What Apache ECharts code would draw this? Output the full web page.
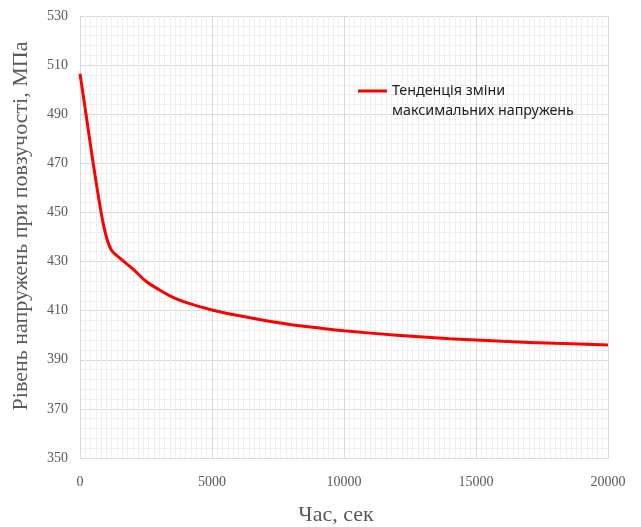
<!DOCTYPE html>
<html>
<head>
<meta charset="utf-8">
<script src="https://cdn.jsdelivr.net/npm/echarts@6/dist/echarts.min.js"></script>
<style>
html,body{margin:0;padding:0;background:#fff;}
#chart{width:641px;height:527px;}
</style>
</head>
<body>
<div id="chart"></div>
<script>
// Data
var timeSec = [0, 200, 500, 800, 1000, 1200, 1500, 2000, 2500, 3000, 3500, 4000, 5000, 6000, 7000, 8000, 9000, 10000, 12000, 14000, 16000, 18000, 20000];
var stressMPa = [506.5, 492, 470, 450, 440, 434.5, 431.5, 427, 422, 418.5, 415.5, 413.4, 410.3, 408, 406, 404.3, 403, 401.8, 400, 398.6, 397.5, 396.7, 396];
var seriesName = 'Тенденція зміни\nмаксимальних напружень';
var xName = 'Час, сек';
var yName = 'Рівень напружень при повзучості, МПа';

var points = timeSec.map(function (t, i) { return [t, stressMPa[i]]; });

var chart = echarts.init(document.getElementById('chart'), null, {renderer: 'canvas'});
chart.setOption({
  animation: false,
  backgroundColor: '#ffffff',
  grid: {left: 80, right: 33, top: 16, bottom: 69, outerBoundsMode: 'none', containLabel: false},
  legend: {
    show: true,
    left: 353,
    top: 76,
    itemWidth: 29,
    itemHeight: 34,
    itemGap: 5,
    icon: 'path://M0,5.5L29,5.5L29,8.5L0,8.5Z M0,0L0.01,0L0.01,0.01Z M0,34L0.01,34L0.01,34.01Z',
    textStyle: {
      fontFamily: 'Noto Sans',
      fontSize: 14.3,
      color: '#222222',
      lineHeight: 20
    },
    data: [{name: seriesName, itemStyle: {color: '#ff0000'}}]
  },
  xAxis: {
    type: 'value',
    min: 0,
    max: 20000,
    interval: 5000,
    name: xName,
    nameLocation: 'middle',
    nameGap: 46,
    nameTextStyle: {fontFamily: 'Liberation Serif', fontSize: 22, color: '#595959', padding: [0, 16, 0, 0]},
    axisLine: {show: true, lineStyle: {color: '#d9d9d9', width: 1}},
    axisTick: {show: false},
    axisLabel: {fontFamily: 'Liberation Serif', fontSize: 14, color: '#595959', margin: 17,
      formatter: function (v) { return String(v); }},
    splitLine: {show: true, lineStyle: {color: '#d9d9d9', width: 1}},
    minorTick: {show: false, splitNumber: 25},
    minorSplitLine: {show: true, lineStyle: {color: '#efefef', width: 1}}
  },
  yAxis: {
    type: 'value',
    min: 350,
    max: 530,
    interval: 20,
    name: yName,
    nameLocation: 'middle',
    nameGap: 48,
    nameTextStyle: {fontFamily: 'Liberation Serif', fontSize: 22, color: '#595959', padding: [0, 0, 0, 22]},
    axisLine: {show: true, lineStyle: {color: '#d9d9d9', width: 1}},
    axisTick: {show: false},
    axisLabel: {fontFamily: 'Liberation Serif', fontSize: 14, color: '#595959', margin: 12,
      formatter: function (v) { return String(v); }},
    splitLine: {show: true, lineStyle: {color: '#d9d9d9', width: 1}},
    minorTick: {show: false, splitNumber: 5},
    minorSplitLine: {show: true, lineStyle: {color: '#efefef', width: 1}}
  },
  series: [{
    name: seriesName,
    type: 'line',
    data: points,
    smooth: 0.3,
    showSymbol: false,
    symbol: 'none',
    lineStyle: {color: '#ff0000', width: 3},
    itemStyle: {color: '#ff0000'}
  }]
});
</script>
</body>
</html>
